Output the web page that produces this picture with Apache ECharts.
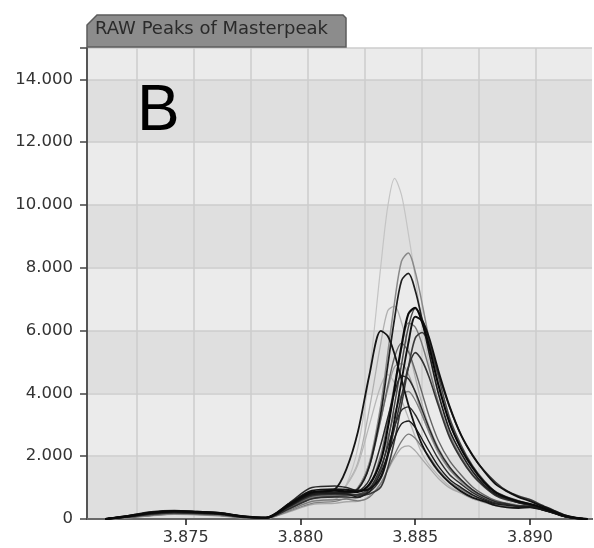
<!DOCTYPE html>
<html>
<head>
<meta charset="utf-8">
<title>RAW Peaks of Masterpeak</title>
<script src="https://cdn.jsdelivr.net/npm/echarts@6/dist/echarts.min.js"></script>
<style>
  html, body { margin: 0; padding: 0; background: #fff; }
  #chart { width: 594px; height: 548px; }
</style>
</head>
<body>
<div id="chart"></div>
<script>
// retention times (x) shared by all raw peaks
var rt = [3.8715, 3.8725, 3.8735, 3.8745, 3.8755, 3.8765, 3.8775, 3.8785, 3.8795, 3.8805, 3.8815,
          3.882, 3.8825, 3.883, 3.8835, 3.8838, 3.8841, 3.8844, 3.8847, 3.885, 3.8853, 3.8856, 3.886,
          3.8865, 3.887, 3.8875, 3.888, 3.8885, 3.889, 3.8895, 3.890, 3.8905, 3.891, 3.8915, 3.892, 3.8925];

// intensities, one array per raw peak
var peak01 = [0,50,120,180,160,130,40,20,300,600,650, 1100,2270,4630,8060,9940,10850,10320,9090,7700,6200,4970,3730,2710,1960,1370,1000,760,570,450,400, 320,200,80,20,0];
var peak02 = [0,70,160,220,190,160,70,30,380,720,780, 800,1000,1790,3630,5270,6910,8210,8470,7870,6860,5730,4340,3040,2240,1610,1150,830,680,530,450, 330,210,90,20,0];
var peak03 = [0,80,180,230,200,170,80,40,420,800,850, 850,950,1680,3370,4880,6390,7590,7820,7280,6340,5300,4020,2820,2090,1510,1080,790,650,520,440, 340,220,100,30,0];
var peak04 = [0,90,200,250,220,180,80,40,450,850,900, 880,860,1100,1860,2880,4170,5510,6530,6730,6260,5510,4290,3060,2240,1640,1170,850,680,560,480, 370,230,100,30,0];
var peak05 = [0,60,140,190,170,140,50,30,330,650,720, 750,780,960,1570,2440,3650,4920,6110,6700,6370,5690,4560,3220,2350,1690,1220,870,700,580,480, 360,230,90,20,0];
var peak06 = [0,100,210,260,230,190,90,50,480,900,950, 930,900,960,1340,2060,3160,4390,5600,6440,6310,5780,4740,3580,2670,2030,1520,1110,880,700,570, 420,270,120,40,0];
var peak07 = [0,70,170,210,200,160,60,30,360,700,760, 760,760,1030,2050,3110,4300,5430,6240,6110,5560,4800,3730,2670,1970,1420,1040,760,620,520,460, 330,210,90,20,0];
var peak08 = [0,80,190,240,210,170,70,40,420,820,950, 1590,2770,4580,5990,5830,5250,4450,3640,2940,2360,1950,1530,1150,880,680,560,430,370,350,370, 300,200,80,20,0];
var peak09 = [0,50,130,170,150,120,40,20,280,560,620, 1070,1790,3500,5610,6630,6780,6260,5460,4520,3650,2960,2280,1660,1240,900,700,550,430,390,380, 300,190,80,20,0];
var peak10 = [0,90,180,220,200,170,70,30,400,760,800, 800,780,860,1290,1970,2910,3900,4830,5300,5040,4520,3630,2590,1910,1390,1030,750,610,530,450, 340,210,90,20,0];
var peak11 = [0,60,150,200,180,150,60,30,340,680,730, 800,990,1770,3190,4120,4850,4950,4610,4020,3330,2750,2110,1570,1180,890,680,530,460,400,390, 310,200,80,20,0];
var peak12 = [0,110,230,270,240,200,90,40,500,1000,1050, 1000,900,1250,2370,3220,4020,4560,4470,4060,3480,2900,2230,1650,1250,930,710,550,480,410,400, 320,210,90,20,0];
var peak13 = [0,40,110,160,140,110,40,20,250,500,560, 660,690,1030,1850,2600,3350,3940,4060,3780,3300,2790,2160,1570,1220,920,700,540,480,420,400, 320,200,80,20,0];
var peak14 = [0,70,160,200,180,150,60,30,320,640,700, 700,680,950,1650,2300,2950,3460,3570,3320,2900,2460,1920,1410,1110,840,650,510,460,410,390, 310,200,80,20,0];
var peak15 = [0,90,190,230,210,170,70,40,400,780,820, 800,700,870,1470,2030,2590,3030,3120,2910,2540,2160,1690,1260,1000,770,610,480,440,400,390, 310,200,80,20,0];
var peak16 = [0,50,120,170,150,120,40,20,280,560,620, 630,580,690,1130,1580,2050,2470,2700,2570,2280,2000,1580,1190,950,740,590,460,420,390,390, 300,190,80,20,0];
var peak17 = [0,40,100,150,130,100,30,20,230,460,500, 550,560,730,1150,1550,1950,2260,2330,2170,1900,1640,1300,990,820,650,530,430,400,380,380, 290,190,80,20,0];
var peak18 = [0,60,140,190,170,140,50,30,350,700,760, 1080,1730,2990,4250,4600,4330,3800,3220,2610,2080,1730,1390,1040,830,640,530,420,370,360,370, 300,190,80,20,0];
var peak19 = [0,80,170,220,200,160,70,30,380,740,800, 800,760,800,1020,1620,2510,3640,4820,5760,5940,5580,4630,3550,2660,2010,1540,1170,890,730,620, 450,290,130,40,0];
var peak20 = [0,70,150,200,180,150,60,30,360,720,770, 800,950,1670,3170,4220,5160,5600,5330,4720,4010,3290,2510,1850,1400,1020,770,590,500,430,410, 320,200,90,20,0];

// axis labels
var xTicks = [3.875, 3.880, 3.885, 3.890];
var yMax = 15000;

// drawing order (light ones behind) and grey shade / width of every trace
var traces = [
    [peak01, '#c4c4c4', 1.2], [peak09, '#b0b0b0', 1.3], [peak18, '#b8b8b8', 1.3], [peak17, '#a8a8a8', 1.3],
    [peak11, '#9a9a9a', 1.3], [peak02, '#8a8a8a', 1.5], [peak13, '#808080', 1.3], [peak16, '#7a7a7a', 1.3],
    [peak07, '#777777', 1.4], [peak20, '#666666', 1.4], [peak05, '#4a4a4a', 1.5], [peak19, '#3a3a3a', 1.6],
    [peak10, '#333333', 1.6], [peak12, '#2a2a2a', 1.5], [peak14, '#2e2e2e', 1.4], [peak15, '#1c1c1c', 1.4],
    [peak03, '#1e1e1e', 1.7], [peak08, '#151515', 1.8], [peak06, '#111111', 1.9], [peak04, '#0a0a0a', 2.1]
];

var FONT = '"DejaVu Sans", Verdana, sans-serif';

function thousands(v){
    return String(v).replace(/\B(?=(\d{3})+(?!\d))/g, '.');
}

function makeSeries(values, color, width){
    var pts = [];
    for(var i = 0; i < rt.length; i++){
        pts.push([rt[i], values[i]]);
    }
    return {
        type: 'line',
        xAxisIndex: 0,
        data: pts,
        smooth: 0.3,
        showSymbol: false,
        silent: true,
        lineStyle: { color: color, width: width }
    };
}

var series = [];
for(var i = 0; i < traces.length; i++){
    series.push(makeSeries(traces[i][0], traces[i][1], traces[i][2]));
}

var chart = echarts.init(document.getElementById('chart'));
chart.setOption({
    animation: false,
    backgroundColor: '#ffffff',
    grid: { left: 87, top: 48, right: 2, bottom: 29 },
    xAxis: [
        {
            type: 'value',
            min: 3.8707,
            max: 3.8927,
            position: 'bottom',
            axisLine: { show: true, onZero: false, lineStyle: { color: '#1a1a1a', width: 2 } },
            axisTick: { show: true, length: 6, customValues: xTicks, lineStyle: { color: '#1a1a1a', width: 1.5 } },
            axisLabel: {
                customValues: xTicks,
                margin: 11,
                color: '#333',
                fontSize: 16,
                fontFamily: FONT,
                formatter: function(v){ return v.toFixed(3); }
            },
            splitLine: { show: false }
        },
        {
            // only carries the vertical grid lines and the top border
            type: 'value',
            min: 3.8707,
            max: 3.8927,
            position: 'top',
            axisLine: { show: true, lineStyle: { color: '#6a6a6a', width: 2 } },
            axisTick: { show: false, customValues: [3.87288, 3.87536, 3.87784, 3.88032, 3.8828, 3.88528, 3.88776, 3.89024] },
            axisLabel: { show: false },
            splitLine: { show: true, lineStyle: { color: '#cdcdcd', width: 1.5 } }
        }
    ],
    yAxis: {
        type: 'value',
        min: 0,
        max: yMax,
        interval: 2000,
        axisLine: { show: true, lineStyle: { color: '#555', width: 2 } },
        axisTick: { show: true, length: 7, lineStyle: { color: '#444', width: 1.5 } },
        axisLabel: {
            margin: 14,
            color: '#333',
            fontSize: 16.5,
            fontFamily: FONT,
            formatter: function(v){ return v % 2000 ? '' : thousands(v); }
        },
        splitLine: { show: true, lineStyle: { color: '#cdcdcd', width: 1.5 } },
        splitArea: { show: true, areaStyle: { color: ['#dfdfdf', '#ebebeb'] } }
    },
    graphic: [
        {
            type: 'polygon',
            shape: { points: [[87, 47], [87, 25], [97, 15], [343, 15], [346, 18], [346, 47]] },
            style: { fill: '#8c8c8c', stroke: '#5c5c5c', lineWidth: 1.5 },
            z: 10
        },
        {
            type: 'text',
            left: 95,
            top: 20,
            style: { text: 'RAW Peaks of Masterpeak', font: '18px ' + FONT, fill: '#2a2a2a' },
            z: 11
        },
        {
            type: 'text',
            left: 137,
            top: 80,
            style: { text: 'B', font: '64px "Liberation Sans", Arial, sans-serif', fill: '#000' },
            z: 11
        }
    ],
    series: series
});
</script>
</body>
</html>
